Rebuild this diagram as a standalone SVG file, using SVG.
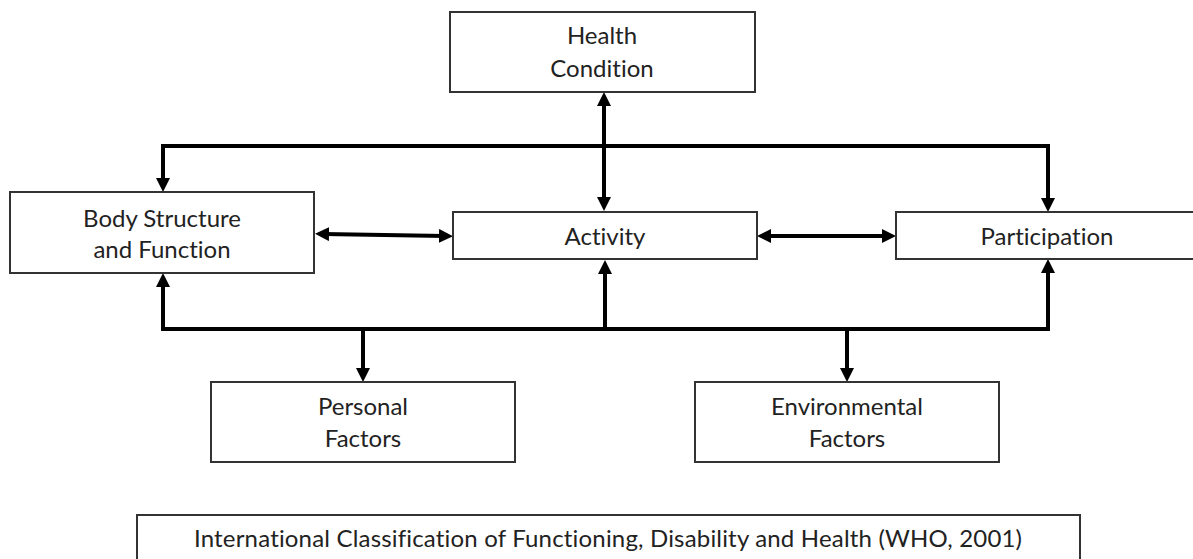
<svg xmlns="http://www.w3.org/2000/svg" width="1193" height="559" viewBox="0 0 1193 559">
  <style>
    .box { fill: #ffffff; stroke: #333333; stroke-width: 2; }
    .lbl { font-family: Lato, "Liberation Sans", sans-serif; font-size: 24px; fill: #222222; text-anchor: middle; font-variant-ligatures: none; }
    .wire { fill: none; stroke: #000000; stroke-width: 4; stroke-linejoin: miter; }
  </style>
  <defs>
    <marker id="head" viewBox="0 0 14 14" refX="6" refY="7" markerWidth="14" markerHeight="14" markerUnits="userSpaceOnUse" orient="auto-start-reverse">
      <path d="M0,0 L14,7 L0,14 z" fill="#000000"/>
    </marker>
  </defs>

  <rect width="1193" height="559" fill="#ffffff"/>

  <!-- connectors -->
  <g id="connectors">
    <path class="wire" d="M163,184 L163,146 L1048,146 L1048,204" marker-start="url(#head)" marker-end="url(#head)"/>
    <path class="wire" d="M163,281 L163,329 L1048,329 L1048,267" marker-start="url(#head)" marker-end="url(#head)"/>
    <path class="wire" d="M604,100 L604,203" marker-start="url(#head)" marker-end="url(#head)"/>
    <path class="wire" d="M323,234 L445,236" marker-start="url(#head)" marker-end="url(#head)"/>
    <path class="wire" d="M765,236 L888,236" marker-start="url(#head)" marker-end="url(#head)"/>
    <path class="wire" d="M605,329 L605,268" marker-end="url(#head)"/>
    <path class="wire" d="M363,329 L363,374" marker-end="url(#head)"/>
    <path class="wire" d="M847,329 L847,374" marker-end="url(#head)"/>
  </g>

  <g id="health-condition">
    <rect class="box" x="450" y="12" width="305" height="80"/>
    <text class="lbl" x="602" y="44">Health</text>
    <text class="lbl" x="602" y="77">Condition</text>
  </g>

  <g id="body-structure">
    <rect class="box" x="10" y="192" width="304" height="81"/>
    <text class="lbl" x="162" y="227">Body Structure</text>
    <text class="lbl" x="162" y="258">and Function</text>
  </g>

  <g id="activity">
    <rect class="box" x="453" y="212" width="304" height="47"/>
    <text class="lbl" x="605" y="245">Activity</text>
  </g>

  <g id="participation">
    <rect class="box" x="896" y="212" width="310" height="47"/>
    <text class="lbl" x="1047" y="245">Participation</text>
  </g>

  <g id="personal-factors">
    <rect class="box" x="211" y="382" width="304" height="80"/>
    <text class="lbl" x="363" y="415">Personal</text>
    <text class="lbl" x="363" y="447">Factors</text>
  </g>

  <g id="environmental-factors">
    <rect class="box" x="695" y="382" width="304" height="80"/>
    <text class="lbl" x="847" y="415">Environmental</text>
    <text class="lbl" x="847" y="447">Factors</text>
  </g>

  <g id="caption">
    <rect class="box" x="137" y="515" width="943" height="60"/>
    <text class="lbl" x="608" y="547" textLength="828" lengthAdjust="spacing">International Classification of Functioning, Disability and Health (WHO, 2001)</text>
  </g>
</svg>
